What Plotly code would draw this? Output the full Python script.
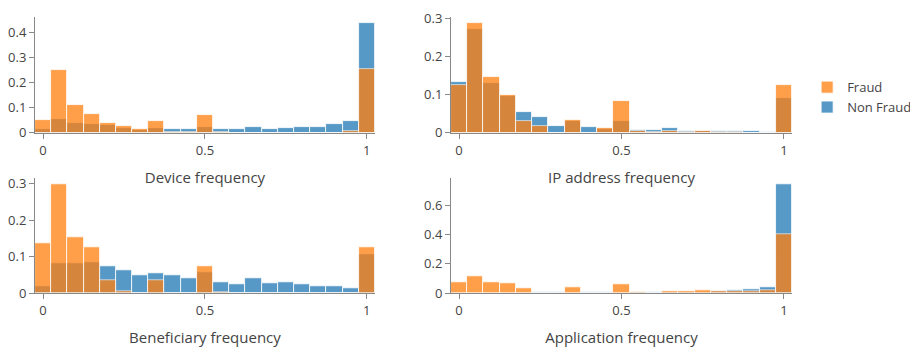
import plotly.graph_objects as go

bins = [0.0, 0.05, 0.1, 0.15, 0.2, 0.25, 0.3, 0.35, 0.4, 0.45, 0.5,
        0.55, 0.6, 0.65, 0.7, 0.75, 0.8, 0.85, 0.9, 0.95, 1.0]

device_fraud = [0.052, 0.252, 0.110, 0.075, 0.039, 0.027, 0.017, 0.047, 0.002, 0.002, 0.071,
                0.003, 0.0, 0.0, 0.0, 0.0, 0.0, 0.0, 0.0, 0.008, 0.256]
device_non = [0.015, 0.056, 0.039, 0.034, 0.030, 0.021, 0.012, 0.021, 0.017, 0.017, 0.024,
              0.017, 0.014, 0.024, 0.015, 0.020, 0.025, 0.025, 0.035, 0.047, 0.439]

ip_fraud = [0.126, 0.288, 0.146, 0.100, 0.032, 0.019, 0.0, 0.034, 0.0, 0.013, 0.083,
            0.005, 0.003, 0.006, 0.003, 0.004, 0.002, 0.002, 0.001, 0.0, 0.126]
ip_non = [0.132, 0.272, 0.130, 0.096, 0.054, 0.042, 0.019, 0.032, 0.015, 0.011, 0.032,
          0.007, 0.007, 0.012, 0.004, 0.006, 0.004, 0.004, 0.004, 0.003, 0.092]

ben_fraud = [0.136, 0.300, 0.154, 0.127, 0.035, 0.004, 0.0, 0.035, 0.0, 0.0, 0.074,
             0.003, 0.0, 0.0, 0.0, 0.0, 0.0, 0.0, 0.0, 0.0, 0.125]
ben_non = [0.020, 0.083, 0.083, 0.086, 0.073, 0.062, 0.048, 0.055, 0.048, 0.040, 0.058,
           0.030, 0.025, 0.040, 0.026, 0.029, 0.024, 0.019, 0.019, 0.014, 0.106]

app_fraud = [0.073, 0.117, 0.071, 0.064, 0.035, 0.0, 0.0, 0.042, 0.0, 0.0, 0.060,
             0.009, 0.0, 0.015, 0.015, 0.020, 0.015, 0.011, 0.015, 0.022, 0.401]
app_non = [0.0, 0.0, 0.0, 0.0, 0.0, 0.009, 0.004, 0.0, 0.004, 0.004, 0.0,
           0.005, 0.009, 0.005, 0.005, 0.008, 0.010, 0.020, 0.024, 0.040, 0.748]

titles = ["Device frequency", "IP address frequency", "Beneficiary frequency", "Application frequency"]
panels = [(device_fraud, device_non), (ip_fraud, ip_non), (ben_fraud, ben_non), (app_fraud, app_non)]

FRAUD = "#ff7f0e"
NON = "#1f77b4"

fig = go.Figure()
axis_names = ["", "2", "3", "4"]
for i, (fr, nf) in enumerate(panels):
    ax = axis_names[i]
    fig.add_trace(go.Bar(x=bins, y=nf, name="Non Fraud", marker=dict(color=NON, line=dict(color="white", width=0.8)),
                         opacity=0.75, width=0.05, xaxis="x" + ax, yaxis="y" + ax,
                         legendgroup="non", showlegend=(i == 0)))
    fig.add_trace(go.Bar(x=bins, y=fr, name="Fraud", marker=dict(color=FRAUD, line=dict(color="white", width=0.8)),
                         opacity=0.75, width=0.05, xaxis="x" + ax, yaxis="y" + ax,
                         legendgroup="fraud", showlegend=(i == 0)))

xdom = [[0, 0.449], [0.5495, 1]]
ydom = [[0.58, 1], [0, 0.416]]
layout = dict(
    barmode="overlay", bargap=0,
    width=910, height=342,
    margin=dict(l=27, r=126, t=9, b=57, autoexpand=False),
    paper_bgcolor="white", plot_bgcolor="white",
    font=dict(family="Open Sans, sans-serif", size=13, color="#444"),
    legend=dict(x=1.02, y=0.80, xanchor="left", yanchor="top", traceorder="reversed",
                font=dict(size=13)),
)
for i in range(4):
    ax = axis_names[i]
    col = i % 2
    row = i // 2
    layout["xaxis" + ax] = dict(domain=xdom[col], anchor="y" + ax, range=[-0.025, 1.025],
                                tickvals=[0, 0.5, 1], ticktext=["0", "0.5", "1"],
                                showline=True, linecolor="#888", ticks="outside", tickcolor="#888",
                                ticklen=5, showgrid=False, zeroline=False, automargin=False,
                                tickfont=dict(size=13), ticklabeloverflow="allow",
                                title=dict(text=titles[i], standoff=14, font=dict(size=15)))
    layout["yaxis" + ax] = dict(domain=ydom[row], anchor="x" + ax,
                                showline=True, linecolor="#888", ticks="outside", tickcolor="#888",
                                ticklen=5, showgrid=False, zeroline=False, rangemode="tozero",
                                automargin=False, tickfont=dict(size=13), ticklabeloverflow="allow")
fig.update_layout(**layout)
fig.update_yaxes(dtick=0.1)
fig.update_layout(yaxis2=dict(range=[0, 0.303]), yaxis4=dict(dtick=0.2))
fig.write_html("out.html")
